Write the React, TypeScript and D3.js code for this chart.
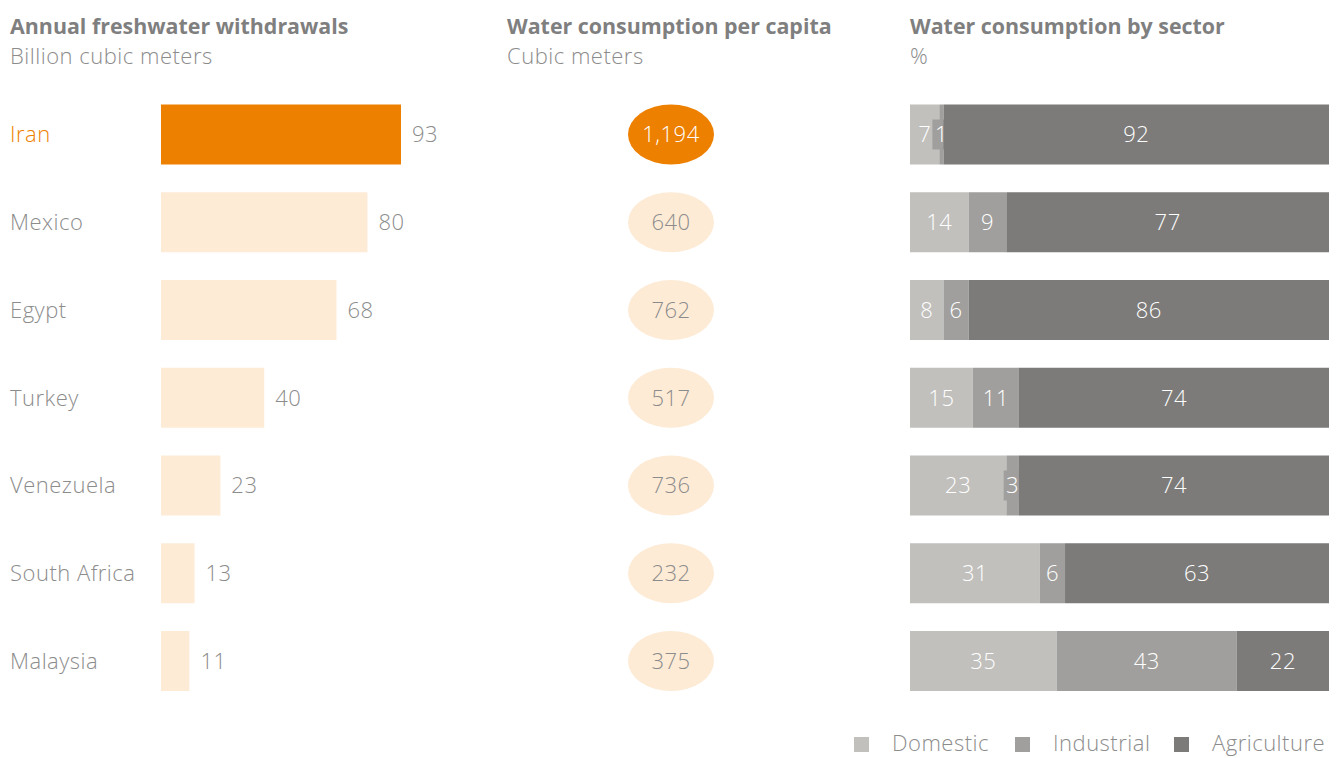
import React from "react";
import * as d3 from "d3";

const countries = ["Iran", "Mexico", "Egypt", "Turkey", "Venezuela", "South Africa", "Malaysia"];
const withdrawals = [93, 80, 68, 40, 23, 13, 11];
const perCapita = [1194, 640, 762, 517, 736, 232, 375];
const domestic = [7, 14, 8, 15, 23, 31, 35];
const industrial = [1, 9, 6, 11, 3, 6, 43];
const agriculture = [92, 77, 86, 74, 74, 63, 22];
const sectors = ["Domestic", "Industrial", "Agriculture"];
const highlight = "Iran";

const W = 1336;
const H = 758;
const ORANGE = "#EE8000";
const LIGHT = "#FDEBD6";
const TEXT = "#8C8C8C";
const TITLE = "#7F7F7F";
const sectorColors = ["#C1C0BD", "#A09F9D", "#7C7B79"];
const FONT = "'Open Sans', 'Liberation Sans', sans-serif";

export default function App() {
  const y = d3.scalePoint<string>().domain(countries).range([134.5, 661]);
  const barH = 60;
  const xW = d3.scaleLinear().domain([0, 93]).range([161, 401]);
  const xS = d3.scaleLinear().domain([0, 100]).range([910, 1329]);
  const fmt = d3.format(",");
  const stack = countries.map((c, i) => {
    const vals = [domestic[i], industrial[i], agriculture[i]];
    let acc = 0;
    return vals.map((v, k) => {
      const s = { k, v, x0: acc, x1: acc + v };
      acc += v;
      return s;
    });
  });

  const legendX = [854, 1015, 1174];
  const fs = 22;
  const ls = 0.5;
  const reg = { fontSize: fs, fontWeight: 300, letterSpacing: ls } as const;

  return (
    <svg width={W} height={H} style={{ position: "absolute", left: 0, top: 0, fontFamily: FONT }}>
      <rect width={W} height={H} fill="#fff" />
      {[
        { x: 10, t: "Annual freshwater withdrawals", s: "Billion cubic meters" },
        { x: 507, t: "Water consumption per capita", s: "Cubic meters" },
        { x: 910, t: "Water consumption by sector", s: "%" },
      ].map((h) => (
        <g key={h.t}>
          <text x={h.x} y={34} fontSize={21.4} fontWeight={700} fill={TITLE}>{h.t}</text>
          <text x={h.x} y={64} {...reg} fill={TEXT}>{h.s}</text>
        </g>
      ))}
      {countries.map((c, i) => {
        const cy = y(c)!;
        const hi = c === highlight;
        return (
          <g key={c}>
            <text x={10} y={cy} dy="0.36em" {...reg} fill={hi ? ORANGE : TEXT}>{c}</text>
            <rect x={xW(0)} y={cy - barH / 2} width={xW(withdrawals[i]) - xW(0)} height={barH} fill={hi ? ORANGE : LIGHT} />
            <text x={xW(withdrawals[i]) + 11} y={cy} dy="0.36em" {...reg} fill={TEXT}>{withdrawals[i]}</text>
            <ellipse cx={671} cy={cy} rx={43} ry={30} fill={hi ? ORANGE : LIGHT} />
            <text x={671} y={cy} dy="0.36em" textAnchor="middle" {...reg} fill={hi ? "#fff" : TEXT}>{fmt(perCapita[i])}</text>
            {stack[i].map((s) => {
              const x0 = xS(s.x0);
              const w = xS(s.x1) - xS(s.x0);
              const cx = x0 + w / 2;
              const label = String(s.v);
              const tw = label.length * 12;
              const narrow = w < tw + 6;
              return (
                <g key={s.k}>
                  <rect x={x0} y={cy - barH / 2} width={w} height={barH} fill={sectorColors[s.k]} />
                  {narrow && (
                    <rect x={cx - tw / 2 - 3} y={cy - 15} width={tw + 6} height={30} fill={sectorColors[s.k]} />
                  )}
                </g>
              );
            })}
            {stack[i].map((s) => {
              const x0 = xS(s.x0);
              const w = xS(s.x1) - xS(s.x0);
              return (
                <text key={"t" + s.k} x={x0 + w / 2} y={cy} dy="0.36em" textAnchor="middle" {...reg} fill="#fff">{s.v}</text>
              );
            })}
          </g>
        );
      })}
      {sectors.map((s, k) => (
        <g key={s}>
          <rect x={legendX[k]} y={737} width={15} height={15} fill={sectorColors[k]} />
          <text x={legendX[k] + 38} y={751} {...reg} fill={TEXT}>{s}</text>
        </g>
      ))}
    </svg>
  );
}
